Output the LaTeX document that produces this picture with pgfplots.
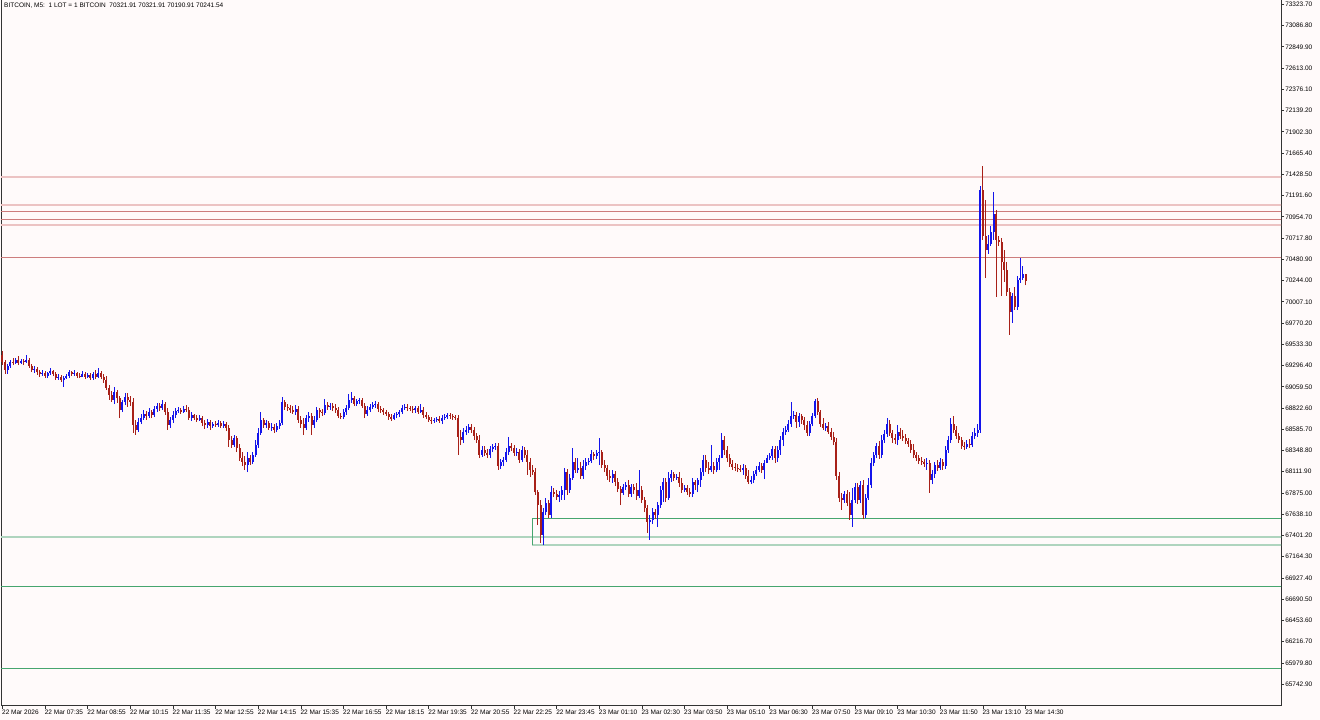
\documentclass[border=0pt]{standalone}
\usepackage{fontspec}
\setmainfont{Liberation Sans}
\usepackage{pgfplots}
\pgfplotsset{compat=1.18}
\usepackage{pgfplotstable}
\definecolor{bgc}{RGB}{255,250,250}
\definecolor{upc}{RGB}{20,20,235}
\definecolor{dnc}{RGB}{168,32,24}
\definecolor{redl}{RGB}{205,125,125}
\definecolor{pinkl}{RGB}{236,195,195}
\definecolor{greenl}{RGB}{70,165,110}
\definecolor{greenp}{RGB}{175,212,190}
\pgfplotstableread{
i o h l c
0 69414 69458 69302 69336
1 69336 69358 69202 69247
2 69247 69313 69202 69291
3 69291 69358 69269 69336
4 69336 69380 69302 69330
5 69330 69380 69313 69358
6 69358 69403 69302 69325
7 69325 69369 69313 69347
8 69347 69369 69302 69336
9 69336 69414 69325 69358
10 69358 69380 69269 69291
11 69291 69313 69224 69247
12 69247 69291 69213 69258
13 69258 69280 69191 69224
14 69224 69247 69169 69202
15 69202 69247 69180 69213
16 69213 69235 69157 69180
17 69180 69224 69157 69213
18 69213 69269 69191 69235
19 69235 69247 69180 69202
20 69202 69224 69135 69157
21 69157 69202 69135 69169
22 69169 69191 69113 69135
23 69135 69180 69057 69157
24 69157 69202 69146 69180
25 69180 69247 69157 69224
26 69224 69235 69180 69202
27 69202 69247 69180 69213
28 69213 69224 69157 69180
29 69180 69213 69157 69169
30 69169 69235 69169 69202
31 69202 69224 69146 69169
32 69169 69213 69157 69191
33 69191 69213 69135 69157
34 69157 69224 69135 69202
35 69202 69247 69146 69169
36 69169 69269 69157 69213
37 69213 69235 69146 69169
38 69169 69202 69102 69135
39 69135 69180 69024 69046
40 69046 69079 68912 68968
41 68968 69012 68890 68912
42 68912 69057 68867 69001
43 69001 69024 68879 68934
44 68934 68957 68711 68801
45 68801 68912 68778 68890
46 68890 68990 68856 68946
47 68946 68990 68834 68912
48 68912 68957 68845 68890
49 68890 68934 68544 68633
50 68633 68689 68522 68578
51 68578 68711 68555 68667
52 68667 68756 68644 68711
53 68711 68801 68689 68756
54 68756 68789 68689 68734
55 68734 68823 68711 68778
56 68778 68801 68711 68745
57 68745 68845 68722 68812
58 68812 68879 68778 68845
59 68845 68879 68789 68823
60 68823 68912 68801 68867
61 68867 68890 68745 68778
62 68778 68823 68578 68633
63 68633 68722 68600 68689
64 68689 68789 68656 68745
65 68745 68823 68711 68789
66 68789 68834 68767 68801
67 68801 68823 68756 68778
68 68778 68845 68767 68812
69 68812 68856 68778 68801
70 68801 68834 68689 68711
71 68711 68778 68678 68745
72 68745 68756 68689 68711
73 68711 68745 68667 68689
74 68689 68745 68678 68711
75 68711 68734 68622 68656
76 68656 68689 68589 68633
77 68633 68700 68600 68667
78 68667 68689 68578 68622
79 68622 68667 68600 68644
80 68644 68678 68611 68633
81 68633 68689 68611 68656
82 68656 68678 68600 68622
83 68622 68678 68600 68644
84 68644 68667 68566 68600
85 68600 68633 68388 68466
86 68466 68511 68377 68410
87 68410 68522 68388 68488
88 68488 68511 68332 68377
89 68377 68421 68232 68265
90 68265 68332 68176 68221
91 68221 68288 68132 68187
92 68187 68332 68109 68265
93 68265 68299 68187 68221
94 68221 68332 68198 68299
95 68299 68466 68277 68410
96 68410 68600 68377 68544
97 68544 68778 68522 68689
98 68689 68711 68600 68633
99 68633 68689 68600 68656
100 68656 68678 68578 68600
101 68600 68656 68566 68611
102 68611 68644 68544 68578
103 68578 68656 68555 68622
104 68622 68689 68589 68656
105 68656 68946 68633 68890
106 68890 68912 68801 68834
107 68834 68867 68789 68823
108 68823 68856 68767 68801
109 68801 68845 68756 68778
110 68778 68856 68745 68812
111 68812 68845 68656 68689
112 68689 68734 68600 68644
113 68644 68711 68522 68600
114 68600 68745 68578 68711
115 68711 68778 68667 68734
116 68734 68767 68522 68633
117 68633 68734 68600 68689
118 68689 68834 68667 68801
119 68801 68823 68711 68778
120 68778 68812 68734 68767
121 68767 68923 68745 68856
122 68856 68890 68801 68834
123 68834 68879 68801 68845
124 68845 68879 68789 68823
125 68823 68867 68767 68801
126 68801 68834 68711 68734
127 68734 68767 68700 68722
128 68722 68812 68700 68778
129 68778 68856 68745 68823
130 68823 68979 68801 68912
131 68912 69001 68879 68934
132 68934 68957 68845 68867
133 68867 68923 68845 68901
134 68901 68934 68867 68912
135 68912 68934 68823 68845
136 68845 68879 68711 68756
137 68756 68845 68734 68801
138 68801 68867 68778 68834
139 68834 68890 68812 68856
140 68856 68901 68823 68867
141 68867 68890 68778 68812
142 68812 68845 68767 68801
143 68801 68823 68745 68778
144 68778 68801 68734 68756
145 68756 68778 68689 68722
146 68722 68756 68678 68700
147 68700 68767 68689 68745
148 68745 68778 68711 68756
149 68756 68801 68722 68778
150 68778 68856 68756 68823
151 68823 68867 68801 68834
152 68834 68867 68789 68823
153 68823 68845 68789 68812
154 68812 68845 68767 68801
155 68801 68845 68767 68823
156 68823 68845 68756 68778
157 68778 68867 68767 68801
158 68801 68834 68711 68745
159 68745 68778 68700 68722
160 68722 68745 68667 68689
161 68689 68722 68644 68678
162 68678 68711 68656 68689
163 68689 68722 68667 68700
164 68700 68734 68656 68678
165 68678 68745 68644 68711
166 68711 68756 68689 68722
167 68722 68767 68700 68745
168 68745 68767 68700 68734
169 68734 68756 68689 68722
170 68722 68745 68689 68711
171 68711 68745 68299 68500
172 68500 68578 68410 68466
173 68466 68600 68433 68555
174 68555 68622 68522 68578
175 68578 68644 68544 68611
176 68611 68644 68544 68578
177 68578 68611 68466 68511
178 68511 68544 68433 68466
179 68466 68522 68265 68299
180 68299 68399 68277 68355
181 68355 68399 68288 68321
182 68321 68366 68265 68299
183 68299 68399 68265 68366
184 68366 68421 68332 68388
185 68388 68433 68355 68399
186 68399 68433 68132 68176
187 68176 68254 68143 68221
188 68221 68277 68176 68243
189 68243 68377 68221 68332
190 68332 68500 68299 68399
191 68399 68433 68343 68377
192 68377 68410 68288 68321
193 68321 68377 68288 68332
194 68332 68366 68210 68243
195 68243 68399 68221 68355
196 68355 68388 68265 68299
197 68299 68355 68076 68221
198 68221 68265 68054 68132
199 68132 68187 68076 68109
200 68109 68154 67853 67886
201 67886 67909 67518 67741
202 67741 67797 67318 67407
203 67407 67708 67295 67663
204 67663 67819 67630 67764
205 67764 67797 67596 67630
206 67630 67953 67596 67886
207 67886 67931 67830 67864
208 67864 67909 67797 67830
209 67830 67897 67775 67853
210 67853 67953 67797 67909
211 67909 68154 67797 68109
212 68109 68143 67853 67909
213 67909 68087 67875 68042
214 68042 68377 68020 68221
215 68221 68265 68098 68132
216 68132 68265 68098 68154
217 68154 68221 68031 68065
218 68065 68243 68031 68176
219 68176 68265 68132 68221
220 68221 68265 68187 68232
221 68232 68355 68210 68310
222 68310 68332 68243 68288
223 68288 68355 68254 68321
224 68321 68488 68187 68332
225 68332 68355 68154 68187
226 68187 68243 68109 68154
227 68154 68187 68020 68065
228 68065 68132 67998 68042
229 68042 68132 67987 68087
230 68087 68120 67953 67998
231 67998 68042 67886 67920
232 67920 67953 67741 67875
233 67875 67975 67853 67942
234 67942 67998 67909 67964
235 67964 68020 67830 67864
236 67864 67975 67830 67942
237 67942 67975 67864 67909
238 67909 67987 67797 67842
239 67842 68132 67819 67909
240 67909 67953 67764 67797
241 67797 67830 67663 67708
242 67708 67741 67429 67552
243 67552 67630 67351 67574
244 67574 67708 67529 67663
245 67663 67697 67585 67630
246 67630 67775 67496 67741
247 67741 67953 67708 67909
248 67909 68042 67775 67998
249 67998 68042 67775 67819
250 67819 68109 67797 68042
251 68042 68132 67998 68087
252 68087 68109 68009 68042
253 68042 68087 68020 68054
254 68054 68109 67942 67987
255 67987 68042 67875 67909
256 67909 67964 67886 67931
257 67931 67964 67853 67886
258 67886 67931 67830 67864
259 67864 68042 67830 67998
260 67998 68020 67909 67964
261 67964 68042 67886 68020
262 68020 68154 67942 68109
263 68109 68299 68065 68243
264 68243 68299 68109 68154
265 68154 68221 68087 68132
266 68132 68410 68109 68176
267 68176 68221 68087 68132
268 68132 68265 68109 68221
269 68221 68299 68132 68265
270 68265 68544 68265 68466
271 68466 68511 68299 68355
272 68355 68399 68221 68265
273 68265 68310 68165 68198
274 68198 68243 68132 68165
275 68165 68210 68120 68154
276 68154 68198 68109 68143
277 68143 68187 68109 68132
278 68132 68198 68076 68154
279 68154 68187 68031 68065
280 68065 68132 67975 67998
281 67998 68065 67975 68020
282 68020 68120 67987 68087
283 68087 68176 68065 68132
284 68132 68221 68109 68176
285 68176 68210 68098 68132
286 68132 68243 68031 68210
287 68210 68299 68210 68265
288 68265 68321 68243 68288
289 68288 68399 68243 68366
290 68366 68399 68210 68265
291 68265 68399 68221 68355
292 68355 68511 68299 68466
293 68466 68600 68399 68555
294 68555 68622 68522 68578
295 68578 68689 68555 68644
296 68644 68890 68611 68734
297 68734 68789 68700 68745
298 68745 68778 68600 68667
299 68667 68767 68611 68734
300 68734 68756 68644 68689
301 68689 68722 68578 68633
302 68633 68678 68511 68544
303 68544 68678 68511 68644
304 68644 68767 68622 68734
305 68734 68923 68711 68901
306 68901 68934 68745 68778
307 68778 68801 68611 68644
308 68644 68711 68578 68600
309 68600 68656 68566 68622
310 68622 68667 68533 68555
311 68555 68600 68466 68500
312 68500 68555 68410 68444
313 68444 68488 68020 68065
314 68065 68109 67775 67819
315 67819 67875 67686 67797
316 67797 67897 67764 67864
317 67864 67909 67730 67764
318 67764 67886 67574 67630
319 67630 67931 67496 67797
320 67797 67987 67764 67942
321 67942 67987 67752 67797
322 67797 68009 67764 67964
323 67964 68020 67585 67630
324 67630 67864 67596 67819
325 67819 68042 67797 67964
326 67964 68265 67931 68210
327 68210 68332 68176 68299
328 68299 68433 68265 68399
329 68399 68455 68254 68299
330 68299 68522 68265 68466
331 68466 68578 68433 68533
332 68533 68711 68500 68644
333 68644 68689 68511 68544
334 68544 68578 68433 68488
335 68488 68533 68421 68466
336 68466 68633 68410 68555
337 68555 68600 68477 68511
338 68511 68578 68455 68488
339 68488 68533 68421 68455
340 68455 68488 68388 68421
341 68421 68466 68321 68355
342 68355 68421 68265 68299
343 68299 68332 68232 68265
344 68265 68299 68198 68232
345 68232 68277 68187 68221
346 68221 68254 68165 68198
347 68198 68265 68132 68210
348 68210 68243 67875 68020
349 68020 68132 67975 68087
350 68087 68221 68042 68187
351 68187 68243 68120 68154
352 68154 68265 68132 68221
353 68221 68254 68132 68176
354 68176 68399 68143 68355
355 68355 68511 68321 68466
356 68466 68711 68433 68644
357 68644 68734 68544 68578
358 68578 68622 68477 68511
359 68511 68544 68433 68466
360 68466 68500 68366 68399
361 68399 68444 68355 68388
362 68388 68466 68366 68421
363 68421 68477 68377 68410
364 68410 68555 68388 68511
365 68511 68600 68477 68544
366 68544 68644 68500 68578
367 68578 71298 68544 71254
368 71254 71521 70696 70741
369 70741 71142 70272 70585
370 70585 70752 70540 70651
371 70651 70852 70629 70785
372 70785 71231 70696 70986
373 70986 71031 70061 70696
374 70696 70741 70629 70674
375 70674 70718 70072 70451
376 70451 70585 70228 70362
377 70362 70451 70072 70116
378 70116 70161 69637 69893
379 69893 70105 69771 70072
380 70072 70172 69916 69949
381 69949 70295 69916 70250
382 70250 70495 70217 70272
383 70272 70406 70250 70321.91
384 70321.91 70321.91 70190.91 70241.54
}\bars
\begin{document}
\begin{tikzpicture}
\fill[bgc] (-1pt,-14pt) rectangle (1319pt,706pt);
\begin{axis}[
  scale only axis, width=1280pt, height=706pt,
  xmin=-0.56, xmax=479.9, ymin=65500.1, ymax=73372,
  axis background/.style={fill=bgc},
  axis line style={draw=black!80, line width=1pt},
  xtick={0,16,...,384},
  xticklabels={22 Mar 2026, 22 Mar 07:35, 22 Mar 08:55, 22 Mar 10:15, 22 Mar 11:35, 22 Mar 12:55, 22 Mar 14:15, 22 Mar 15:35, 22 Mar 16:55, 22 Mar 18:15, 22 Mar 19:35, 22 Mar 20:55, 22 Mar 22:25, 22 Mar 23:45, 23 Mar 01:10, 23 Mar 02:30, 23 Mar 03:50, 23 Mar 05:10, 23 Mar 06:30, 23 Mar 07:50, 23 Mar 09:10, 23 Mar 10:30, 23 Mar 11:50, 23 Mar 13:10, 23 Mar 14:30},
  ytick={65742.9,65979.8,66216.7,66453.6,66690.5,66927.4,67164.3,67401.2,67638.1,67875.0,68111.9,68348.8,68585.7,68822.6,69059.5,69296.4,69533.3,69770.2,70007.1,70244.0,70480.9,70717.8,70954.7,71191.6,71428.5,71665.4,71902.3,72139.2,72376.1,72613.0,72849.9,73086.8,73323.7},
  scaled y ticks=false,
  xtick pos=bottom, ytick pos=right, yticklabel pos=right,
  tick align=outside, major tick length=3pt,
  tick style={draw=black!80, line width=0.7pt},
  ticklabel style={font=\fontsize{6.5}{7}\selectfont, text=black},
  xticklabel style={anchor=north west, inner sep=1pt, xshift=-1.5pt},
  yticklabel style={anchor=west, inner sep=1pt},
  y tick label style={/pgf/number format/fixed, /pgf/number format/fixed zerofill, /pgf/number format/precision=2, /pgf/number format/1000 sep={}},
  /pgf/number format/assume math mode=true,
]
% horizontal levels
\addplot[pinkl, line width=2pt, forget plot] coordinates {(-1,71401.8) (481,71401.8)};
\addplot[pinkl, line width=2pt, forget plot] coordinates {(-1,71089.6) (481,71089.6)};
\addplot[redl, line width=1pt, forget plot] coordinates {(-1,71016) (481,71016)};
\addplot[redl, line width=1pt, forget plot] coordinates {(-1,70926.8) (481,70926.8)};
\addplot[pinkl, line width=2pt, forget plot] coordinates {(-1,70866.6) (481,70866.6)};
\addplot[redl, line width=1pt, forget plot] coordinates {(-1,70503.1) (481,70503.1)};
\addplot[greenp, line width=2pt, forget plot] coordinates {(-1,67384.4) (481,67384.4)};
\addplot[greenp, line width=2pt, forget plot] coordinates {(198.9,67298.6) (481,67298.6)};
\addplot[greenl, line width=1pt, forget plot] coordinates {(481,67593) (198.9,67593) (198.9,67298.6)};
\addplot[greenl, line width=1pt, forget plot] coordinates {(-1,66834.8) (481,66834.8)};
\addplot[greenl, line width=1pt, forget plot] coordinates {(-1,65920.5) (481,65920.5)};
% wicks
\addplot[draw=none, mark=none, forget plot,
  restrict expr to domain={\thisrow{c}-\thisrow{o}}{0:100000},
  error bars/.cd, y dir=plus, y explicit, error mark=none,
  error bar style={draw=upc, line width=1pt}]
  table[x=i, y=l, y error plus expr=\thisrow{h}-\thisrow{l}] {\bars};
\addplot[draw=none, mark=none, forget plot,
  restrict expr to domain={\thisrow{o}-\thisrow{c}}{0.001:100000},
  error bars/.cd, y dir=plus, y explicit, error mark=none,
  error bar style={draw=dnc, line width=1pt}]
  table[x=i, y=l, y error plus expr=\thisrow{h}-\thisrow{l}] {\bars};
% bodies
\addplot[draw=none, mark=none, forget plot,
  restrict expr to domain={\thisrow{c}-\thisrow{o}}{0:100000},
  error bars/.cd, y dir=plus, y explicit, error mark=none,
  error bar style={draw=upc, line width=2pt}]
  table[x=i, y=o, y error plus expr=\thisrow{c}-\thisrow{o}] {\bars};
\addplot[draw=none, mark=none, forget plot,
  restrict expr to domain={\thisrow{o}-\thisrow{c}}{0.001:100000},
  error bars/.cd, y dir=plus, y explicit, error mark=none,
  error bar style={draw=dnc, line width=2pt}]
  table[x=i, y=c, y error plus expr=\thisrow{o}-\thisrow{c}] {\bars};
\end{axis}
\node[anchor=north west, inner sep=0pt, font=\fontsize{6.5}{7}\selectfont] at (3pt,703pt) {BITCOIN, M5:\ \ 1 LOT = 1 BITCOIN\ \ 70321.91 70321.91 70190.91 70241.54};
\pgfresetboundingbox
\path (-1pt,-14pt) rectangle (1319pt,706pt);
\end{tikzpicture}
\end{document}
